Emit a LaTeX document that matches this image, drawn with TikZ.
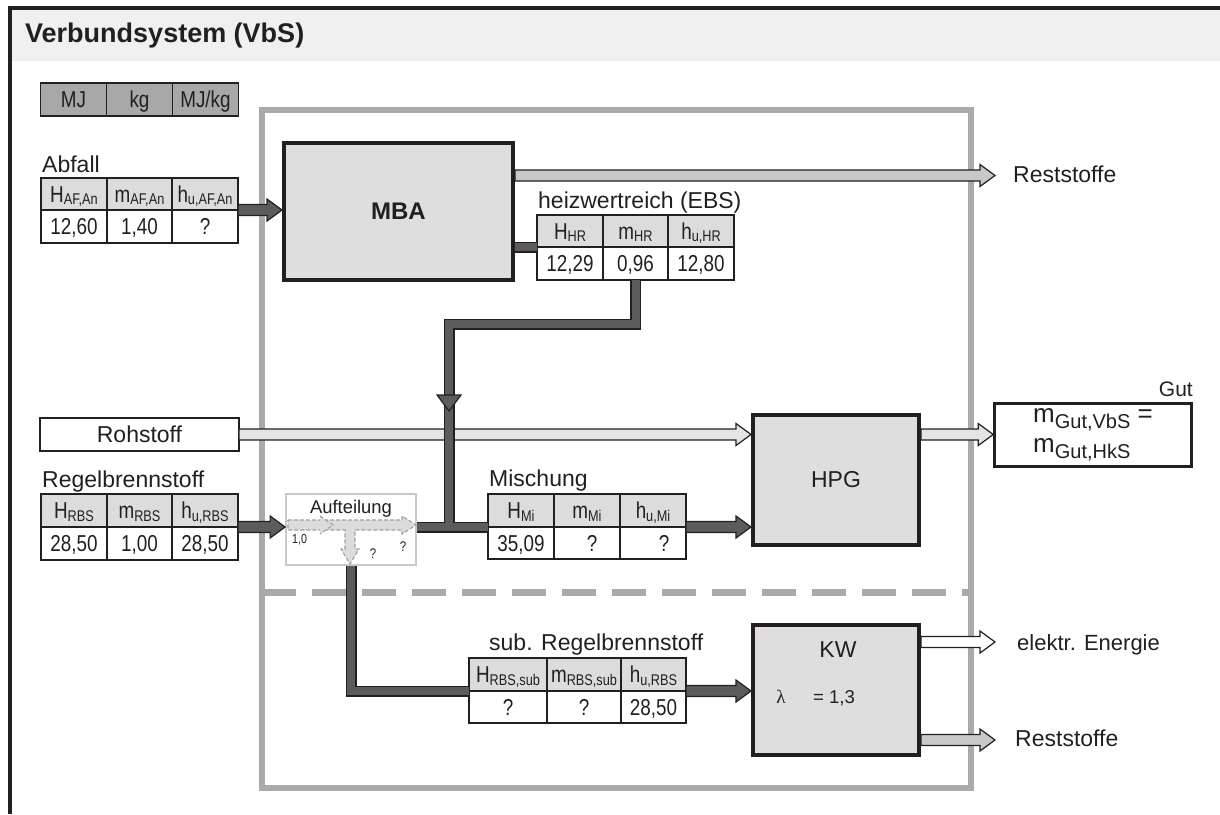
\documentclass[tikz,border=0pt]{standalone}
\usepackage{fontspec}
\setmainfont{Liberation Sans}
\newfontfamily\narrow[FakeStretch=0.82]{Liberation Sans}
\newfontfamily\serifgr{Liberation Serif}
\usetikzlibrary{calc}
\definecolor{ink}{HTML}{231F20}
\definecolor{hdr}{HTML}{DCDCDC}
\definecolor{boxfill}{HTML}{DEDEDE}
\definecolor{band}{HTML}{F0F0F0}
\definecolor{sysgray}{HTML}{AAAAAA}
\definecolor{unitgray}{HTML}{A8A8A8}
\definecolor{darkflow}{HTML}{5C5C5C}
\definecolor{lightflow}{HTML}{E4E4E4}
\definecolor{restflow}{HTML}{C8C8C8}
\definecolor{splitline}{HTML}{A0A0A0}
\definecolor{splitfill}{HTML}{DCDCDC}
\newcommand\sbs[1]{\raisebox{-0.1em}{\fontsize{15.5}{15.5}\selectfont #1}}
\newcommand\gsub[1]{\raisebox{-6.5pt}{\fontsize{20}{20}\selectfont #1}}
\newcommand\blockarrow[3]{%
  \draw[flowline, fill=#1] let \p1=#2, \p2=#3 in
   (\x1,\y1+5.5pt) -- (\x2-15pt,\y1+5.5pt) -- (\x2-15pt,\y1+11pt) -- (\x2,\y1)
   -- (\x2-15pt,\y1-11pt) -- (\x2-15pt,\y1-5.5pt) -- (\x1,\y1-5.5pt) -- cycle;}
\newcommand\pipenet[1]{%
  \draw[#1] (hrV2.south) -- ++(0,44) -| (jn);
  \draw[#1] (auf.east |- miV1.north west) -- (miV1.north west);
  \draw[#1] (auf.south) |- (subV1.north west);
  \draw[#1] (hrV1.north west -| mba.east) -- (hrV1.north west);}
\tikzset{
  flowline/.style={draw=ink, line width=1.2pt, line join=miter},
  pipeout/.style={draw=ink, line width=11pt, line join=miter},
  pipein/.style={draw=darkflow, line width=8pt, line join=miter},
  cellbase/.style={draw=ink, line width=1.4pt, outer sep=0pt, inner sep=0pt,
    anchor=north west, text=ink, text height=16.5pt, text depth=0pt,
    font=\narrow\fontsize{23}{23}\selectfont},
  hcell/.style={cellbase, fill=hdr, minimum height=32},
  vcell/.style={cellbase, fill=white, minimum height=33},
  ucell/.style={cellbase, fill=unitgray, minimum height=33, minimum width=66},
  proc/.style={draw=ink, line width=4pt, fill=boxfill, inner sep=0pt, text=ink},
  lbl/.style={anchor=base west, text=ink, inner sep=0pt, font=\fontsize{23}{23}\selectfont},
  split/.style={draw=splitline, fill=splitfill, line width=1.1pt, dash pattern=on 4pt off 2pt}
}
\begin{document}
\begin{tikzpicture}[x=1pt, y=-1pt]
\useasboundingbox (0,0) rectangle (1220,814);
% frame and header
\fill[band] (12,10) rectangle (1220,61);
\draw[ink, line width=4pt] (9.5,814) -- (9.5,8) -- (1220,8);
\node[anchor=base west, inner sep=0pt, text=ink, font=\bfseries\fontsize{27}{27}\selectfont] (title) at (25,42) {Verbundsystem (VbS)};
% system boundary
\draw[sysgray, line width=6pt] (262,110) rectangle (971,788);
\draw[sysgray, line width=7pt, dash pattern=on 34pt off 16pt] (262,592.5) -- (971,592.5);
% units
\node[ucell] (u1) at (40.5,83) {MJ};
\node[ucell] (u2) at (u1.north east) {kg};
\node[ucell] (u3) at (u2.north east) {MJ/kg};
% Abfall table
\node[lbl] (abfL) at (42,172) {Abfall};
\node[hcell, minimum width=66] (abfH1) at (41,178) {H\sbs{AF,An}};
\node[hcell, minimum width=65] (abfH2) at (abfH1.north east) {m\sbs{AF,An}};
\node[hcell, minimum width=66] (abfH3) at (abfH2.north east) {h\sbs{u,AF,An}};
\node[vcell, minimum width=66] (abfV1) at (abfH1.south west) {12,60};
\node[vcell, minimum width=65] (abfV2) at (abfH2.south west) {1,40};
\node[vcell, minimum width=66] (abfV3) at (abfH3.south west) {?};
% MBA
\node[proc, minimum width=229, minimum height=137, font=\bfseries\fontsize{24}{24}\selectfont] (mba) at (398.5,211.5) {MBA};
% HR table
\node[lbl] (hrL) at (538,208) {heizwertreich (EBS)};
\node[hcell, minimum width=66] (hrH1) at (537,215) {H\sbs{HR}};
\node[hcell, minimum width=65] (hrH2) at (hrH1.north east) {m\sbs{HR}};
\node[hcell, minimum width=66] (hrH3) at (hrH2.north east) {h\sbs{u,HR}};
\node[vcell, minimum width=66] (hrV1) at (hrH1.south west) {12,29};
\node[vcell, minimum width=65] (hrV2) at (hrH2.south west) {0,96};
\node[vcell, minimum width=66] (hrV3) at (hrH3.south west) {12,80};
% Rohstoff
\node[draw=ink, line width=1.4pt, fill=white, outer sep=0pt, inner sep=0pt, minimum width=199, minimum height=33, text=ink, font=\fontsize{23}{23}\selectfont] (roh) at (139.5,434.5) {Rohstoff};
% Regelbrennstoff table
\node[lbl] (rbsL) at (42,487) {Regelbrennstoff};
\node[hcell, minimum width=66, minimum height=33] (rbsH1) at (41,494) {H\sbs{RBS}};
\node[hcell, minimum width=65, minimum height=33] (rbsH2) at (rbsH1.north east) {m\sbs{RBS}};
\node[hcell, minimum width=66, minimum height=33] (rbsH3) at (rbsH2.north east) {h\sbs{u,RBS}};
\node[vcell, minimum width=66] (rbsV1) at (rbsH1.south west) {28,50};
\node[vcell, minimum width=65] (rbsV2) at (rbsH2.south west) {1,00};
\node[vcell, minimum width=66] (rbsV3) at (rbsH3.south west) {28,50};
% Aufteilung
\node[draw=restflow, line width=1.8pt, fill=white, minimum width=130, minimum height=71, inner sep=0pt] (auf) at (351,529.5) {};
\node[anchor=base, inner sep=0pt, text=ink, font=\fontsize{18.4}{18.4}\selectfont] (aufL) at (351,513) {Aufteilung};
\draw[split] (288,520) -- (402,520) -- (402,516) -- (416,525) -- (402,534) -- (402,530)
  -- (355,530) -- (355,549) -- (359,549) -- (350,564) -- (341,549) -- (345,549)
  -- (345,530) -- (288,530) -- cycle;
\draw[split] (320,516) -- (333,525) -- (320,534);
\node[anchor=base west, inner sep=0pt, text=ink, font=\narrow\fontsize{13}{13}\selectfont] (q10) at (292,543) {1,0};
\node[anchor=base, inner sep=0pt, text=ink, font=\narrow\fontsize{14}{14}\selectfont] (q1) at (403,551) {?};
\node[anchor=base, inner sep=0pt, text=ink, font=\narrow\fontsize{14}{14}\selectfont] (q2) at (373,558) {?};
% Mischung table
\node[lbl] (miL) at (489,486) {Mischung};
\node[hcell, minimum width=66, minimum height=33] (miH1) at (488,494) {H\sbs{Mi}};
\node[hcell, minimum width=66, minimum height=33] (miH2) at (miH1.north east) {m\sbs{Mi}};
\node[hcell, minimum width=66, minimum height=33] (miH3) at (miH2.north east) {h\sbs{u,Mi}};
\node[vcell, minimum width=66, minimum height=32] (miV1) at (miH1.south west) {35,09};
\node[vcell, minimum width=66, minimum height=32] (miV2) at (miH2.south west) {\hspace{10pt}?};
\node[vcell, minimum width=66, minimum height=32] (miV3) at (miH3.south west) {\hspace{22pt}?};
\coordinate (jn) at (449,527);
% HPG, Gut
\node[proc, minimum width=166, minimum height=130, font=\fontsize{23}{23}\selectfont] (hpg) at (836,480) {HPG};
\node[draw=ink, line width=2.5pt, fill=white, inner sep=0pt, minimum width=197, minimum height=63, align=left, text=ink, font=\fontsize{26}{30}\selectfont] (gut) at (1093,435) {m\gsub{Gut,VbS} =\\m\gsub{Gut,HkS}};
\node[anchor=base east, inner sep=0pt, text=ink, font=\fontsize{21}{21}\selectfont] (gutL) at (1193,396) {Gut};
% sub table
\node[lbl] (subL) at (489,650) {sub. Regelbrennstoff};
\node[hcell, minimum width=78, minimum height=33] (subH1) at (469,658) {H\sbs{RBS,sub}};
\node[hcell, minimum width=74, minimum height=33] (subH2) at (subH1.north east) {m\sbs{RBS,sub}};
\node[hcell, minimum width=65, minimum height=33] (subH3) at (subH2.north east) {h\sbs{u,RBS}};
\node[vcell, minimum width=78, minimum height=32] (subV1) at (subH1.south west) {?};
\node[vcell, minimum width=74, minimum height=32] (subV2) at (subH2.south west) {?};
\node[vcell, minimum width=65, minimum height=32] (subV3) at (subH3.south west) {28,50};
% KW
\node[proc, minimum width=166, minimum height=130] (kw) at (836,690) {};
\node[anchor=base, inner sep=0pt, text=ink, font=\fontsize{23}{23}\selectfont] (kwL) at (838,657) {KW};
\node[anchor=base, inner sep=0pt, text=ink, font=\serifgr\fontsize{19}{19}\selectfont] (lam) at (781,703) {λ};
\node[anchor=base, inner sep=0pt, text=ink, font=\fontsize{18.6}{18.6}\selectfont] (lamv) at (834,703) {= 1,3};
% outputs
\coordinate (r1) at (995,174.5);
\coordinate (e1) at (995,642);
\coordinate (r2) at (995,740);
\node[lbl] (r1L) at (1013,182) {Reststoffe};
\node[lbl, font=\fontsize{22}{22}\selectfont] (e1L) at (1017,650) {elektr. Energie};
\node[lbl] (r2L) at (1015,746) {Reststoffe};
% arrows
\blockarrow{darkflow}{(abfV3.north east)}{(mba.west)}
\blockarrow{restflow}{($(mba.north east)+(0,34.5)$)}{(r1)}
\blockarrow{lightflow}{(roh.east)}{(hpg.west)}
\blockarrow{lightflow}{(hpg.east |- roh.east)}{(gut.west)}
\blockarrow{darkflow}{(rbsV3.north east)}{(auf.west)}
\blockarrow{darkflow}{(miV3.north east)}{(hpg.west)}
\blockarrow{darkflow}{(subV3.north east)}{(kw.west)}
\blockarrow{white}{($(kw.north east)+(0,19)$)}{(e1)}
\blockarrow{restflow}{($(kw.south east)+(0,-17)$)}{(r2)}
% pipes
\pipenet{pipeout}
\pipenet{pipein}
\draw[flowline, fill=darkflow] (437,395) -- (461,395) -- (449,411) -- cycle;
\end{tikzpicture}
\end{document}
